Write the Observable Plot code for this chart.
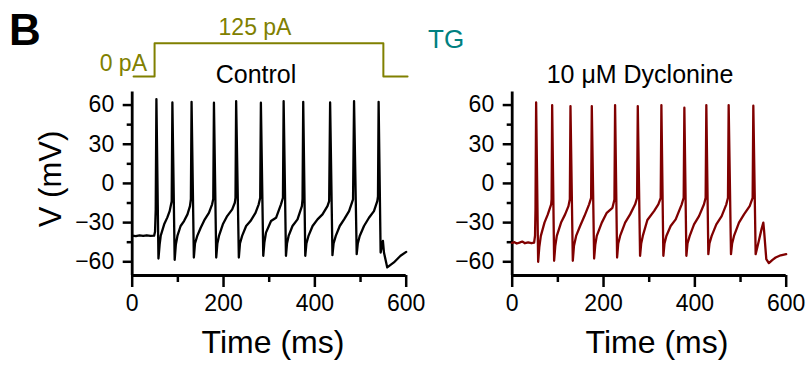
<!DOCTYPE html>
<html><head><meta charset="utf-8">
<script src="https://cdn.jsdelivr.net/npm/d3@7"></script>
<script src="https://cdn.jsdelivr.net/npm/@observablehq/plot@0.6"></script>
<style>
html,body{margin:0;padding:0;background:#fff;}
#fig{position:relative;width:811px;height:366px;overflow:hidden;font-family:"Liberation Sans",Arial,sans-serif;}
</style></head><body><div id="fig"></div>
<script>
// ---- data ----
const ctrlT = [0,8,16,24,32,40,48,50,51.5,
53,57.5,60,62.5,70,77,82,86.5,
88,93,95.5,99,106,113.5,121,126.5,128.5,
130,135,137.5,142.5,150,159,168,175,177.5,
179,184,186.5,190,198.5,208,219,224.7,226.2,
227.6,233.5,236,240.7,249.5,259,270,277,280.3,
281.8,287,289.5,293,304,315,325.8,330.1,
331.6,336.7,339,342.5,351,362,371.6,373,
374.5,379,381.5,386,395,405.8,416.7,427.6,431.3,
433.4,438.5,441,445.8,454.5,464,474.9,483.6,
485.8,491.6,494,498.2,507.6,518.5,529.4,536.7,538.2,
539.6,544,549,551.3,558.5,573,587.6,600];
const ctrlV = [-40,-40.3,-39.8,-40.2,-39.7,-40.1,-40,-37,-20,
64.6,-57.5,-47,-40,-31.3,-26,-21.2,-13.6,
62,-58.5,-47,-40.2,-32.6,-28.8,-23.7,-17.4,-12,
62.5,-56.7,-46,-40.2,-33.9,-27.5,-22.5,-16,-12,
61.8,-56.7,-46,-40.2,-31.3,-25,-19.9,-14.8,-11,
63,-56.7,-46,-40.2,-32.6,-28.8,-22.5,-16,-11,
61.8,-55.4,-45,-37.7,-28.8,-26.3,-16,-11,
63,-55.4,-46,-40.2,-32.6,-27.5,-17.4,-12,
62.5,-55.4,-46,-40.2,-32.6,-27.5,-23.7,-17.4,-13.6,
62,-54.9,-46,-40.2,-32.6,-27.5,-21.2,-12.3,
63,-54.2,-46,-40.2,-32.6,-26.3,-21.2,-13.6,-10,
62.5,-52.9,-44,-52.9,-64.3,-60.5,-55.4,-52.4];

const dycT = [0,5,10,16,22,28,35,42,48,50,51,
52.4,56.8,59.3,62.7,70.7,78,85.3,86.3,
87.5,91.8,94.3,97.7,107,115.9,123.2,126.2,
127.6,132.7,135.2,140,148.7,158.2,168.4,172.8,
174.3,179.4,181.9,185.2,196.2,207.1,219.5,223.9,
225.3,229.7,232.2,236.3,247.3,258.2,269.2,273.5,
275,280,282.5,286,296,310.6,320,325.2,
326.7,331,333.5,337.6,347,358,371.2,375.5,
377,381.4,383.9,388.7,398.2,409.1,420,423.6,
425.1,429.5,432,436.8,447,458.7,468.9,472.5,
474,479.1,481.6,485.7,496.6,507.6,520,526.5,
528,533.1,540,546,549.9,551.5,556.4,562,570,576.9,588,600];
const dycV = [-45.5,-45,-46,-45.3,-44.5,-45.8,-45.2,-45.8,-45.3,-40,-20,
62,-60,-49,-40.2,-30,-23.7,-16,-12,
60,-59.2,-48,-40.2,-30,-23.7,-17.4,-12,
59.2,-59.2,-48,-40.2,-32.6,-25,-16,-11,
59.2,-57.5,-47,-40.2,-30,-22.5,-18.7,-12.3,
60,-56.7,-46,-40.2,-30,-23.7,-16,-11,
59.2,-55.4,-46,-40.2,-28,-21.2,-16,-11,
60,-55.4,-46,-40.2,-32.6,-27.5,-16,-11,
58,-55.4,-46,-40.2,-31.3,-25,-16,-11,
60,-54.2,-46,-40.2,-31.3,-25,-16,-11,
60,-54.2,-46,-40.2,-30,-23.7,-17.4,-11,
59.5,-54.2,-44,-35,-30,-36,-58,-61,-58.5,-56.7,-55,-54.2];

const stimT = [3, 49, 550, 603];
const stimI = [0, 125, 0, 0];
const stimLabels = ["0 pA", "125 pA"];

const xMajor = [0, 200, 400, 600];
const xMinor = [100, 300, 500];
const yMajor = [-60, -30, 0, 30, 60];
const yMinor = [-45, -15, 15, 45];
const panelTitles = ["Control", "10 \u03bcM Dyclonine"];
const traceColors = ["#000000", "#800000"];
const xTitle = "Time (ms)";
const yTitle = "V (mV)";
const panelLetter = "B";
const tissue = "TG";

// ---- layout ----
const fig = document.getElementById("fig");
const FONT = '"Liberation Sans", Arial, sans-serif';
const W = 430, H = 366;
const M = {left: 131.7, right: 24.3, top: 91.5, bottom: 91};
const Y_DOMAIN = [-70.5, 70];

function place(el, left, top) {
  el.style.position = "absolute";
  el.style.left = left + "px";
  el.style.top = top + "px";
  fig.appendChild(el);
}

function panel(T, V, color) {
  const data = T.map((t, i) => ({t, v: V[i]}));
  return Plot.plot({
    width: W, height: H,
    marginLeft: M.left, marginRight: M.right, marginTop: M.top, marginBottom: M.bottom,
    x: {domain: [0, 600]},
    y: {domain: Y_DOMAIN},
    style: {fontFamily: FONT, fontSize: "23px", color: "#000", background: "transparent", overflow: "visible"},
    marks: [
      Plot.axisX({ticks: xMinor, tickSize: 7, fill: "none", strokeWidth: 2.5, label: null}),
      Plot.axisX({ticks: xMajor, tickSize: 12, tickPadding: 7, strokeWidth: 2.5, label: null, fontSize: 23}),
      Plot.axisY({ticks: yMinor, tickSize: 5, fill: "none", strokeWidth: 2.5, label: null}),
      Plot.axisY({ticks: yMajor, tickSize: 9, tickPadding: 9, strokeWidth: 2.5, label: null, fontSize: 23}),
      Plot.ruleX([0], {strokeWidth: 2.8}),
      Plot.ruleY([Y_DOMAIN[0]], {strokeWidth: 2.8}),
      Plot.line(data, {x: "t", y: "v", stroke: color, strokeWidth: 2.3, strokeLinejoin: "round"})
    ]
  });
}

place(panel(ctrlT, ctrlV, traceColors[0]), 0, 0);
place(panel(dycT, dycV, traceColors[1]), 380, 0);

// stimulus protocol
const stimData = stimT.map((t, i) => ({t, i: stimI[i]}));
const stim = Plot.plot({
  width: W, height: 100,
  marginLeft: M.left, marginRight: M.right, marginTop: 42.7, marginBottom: 24,
  x: {domain: [0, 600], axis: null},
  y: {domain: [0, 125], axis: null},
  style: {background: "transparent", overflow: "visible"},
  marks: [
    Plot.line(stimData, {x: "t", y: "i", curve: "step-after", stroke: "#808000", strokeWidth: 2})
  ]
});
place(stim, 0, 0);

// text overlay
const svg = d3.create("svg").attr("width", 811).attr("height", 366)
  .style("font-family", FONT).style("pointer-events", "none");
function txt(s, x, y, size, opts = {}) {
  const t = svg.append("text").attr("x", x).attr("y", y).attr("font-size", size)
    .attr("fill", opts.fill || "#000").attr("text-anchor", opts.anchor || "start").text(s);
  if (opts.bold) t.attr("font-weight", "bold");
  if (opts.rotate) t.attr("transform", `rotate(-90 ${x} ${y})`);
  return t;
}
txt(panelLetter, 9, 45, 44, {bold: true});
txt(stimLabels[0], 147, 71, 23, {fill: "#808000", anchor: "end"});
txt(stimLabels[1], 255, 34.5, 23, {fill: "#808000", anchor: "middle"});
txt(tissue, 428, 48, 26, {fill: "#008080"});
txt(panelTitles[0], 256, 83, 25, {anchor: "middle"});
txt(panelTitles[1], 640, 83, 25, {anchor: "middle"});
txt(xTitle, 273, 353, 32, {anchor: "middle"});
txt(xTitle, 657, 353, 32, {anchor: "middle"});
txt(yTitle, 61, 179, 31, {anchor: "middle", rotate: true});
place(svg.node(), 0, 0);
</script></body></html>
